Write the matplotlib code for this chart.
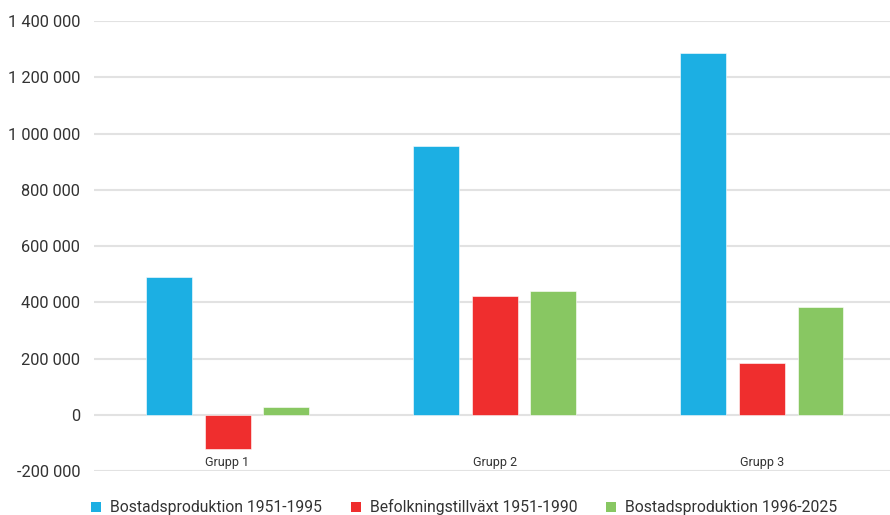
import matplotlib.pyplot as plt
from matplotlib.patches import Patch
from matplotlib.ticker import FuncFormatter
import numpy as np

plt.rcParams['font.family'] = ['Roboto', 'DejaVu Sans']

groups = ['Grupp 1', 'Grupp 2', 'Grupp 3']
series_names = ['Bostadsproduktion 1951-1995', 'Befolkningstillväxt 1951-1990', 'Bostadsproduktion 1996-2025']
bostad_1951 = [490000, 956000, 1285000]
befolkning_1951 = [-120000, 424000, 183000]
bostad_1996 = [29000, 440000, 385000]
colors = ['#1cafe3', '#ef2e2e', '#88c762']

fig = plt.figure(figsize=(8.9, 5.15), dpi=100)
ax = fig.add_axes([0.1056, 0.0849, 0.9005, 0.8744])

x = np.arange(len(groups))
pitch = 0.2196
width = 0.172
for i, (vals, c) in enumerate(zip([bostad_1951, befolkning_1951, bostad_1996], colors)):
    ax.bar(x + (i - 1) * pitch, vals, width, color=c, zorder=3,
           edgecolor='white', linewidth=0.4)

ax.set_xlim(-0.5, 2.5)
ax.set_ylim(-200000, 1400000)
ax.set_yticks(np.arange(-200000, 1400001, 200000))
ax.yaxis.set_major_formatter(FuncFormatter(lambda v, p: f'{int(v):,}'.replace(',', ' ')))
ax.grid(axis='y', color='#e2e2e2', linewidth=1.5, zorder=0)
for s in ax.spines.values():
    s.set_visible(False)
ax.tick_params(axis='y', length=0, pad=10, labelsize=11.8, labelcolor='#333333')

ax.set_xticks(x)
ax.set_xticklabels(groups)
ax.tick_params(axis='x', length=0, pad=-11, labelsize=9, labelcolor='#333333')

handles = [Patch(facecolor=c, edgecolor='none') for c in colors]
fig.legend(handles, series_names, loc='lower left', bbox_to_anchor=(0.1005, -0.004),
           ncol=3, frameon=False, fontsize=11.3, borderpad=0.1, borderaxespad=0,
           handlelength=0.65, handleheight=0.65, handletextpad=0.55, columnspacing=1.85,
           labelcolor='#333333')

fig.savefig('out.png', dpi=100)
